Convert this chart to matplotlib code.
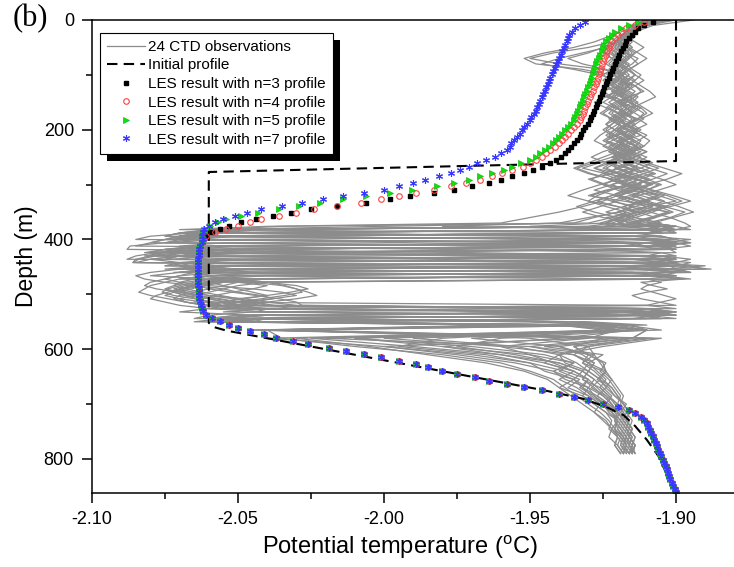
import matplotlib
matplotlib.use('Agg')
import matplotlib.pyplot as plt
import numpy as np
from matplotlib.patches import Rectangle
from matplotlib.ticker import MultipleLocator, FormatStrFormatter

plt.rcParams['font.family'] = ['Liberation Sans', 'DejaVu Sans']
plt.rcParams['mathtext.fontset'] = 'custom'
plt.rcParams['mathtext.rm'] = 'Liberation Sans'

# CTD casts, temperature stored as 0.001 degC above -2.100 degC
ctd_base = -2.100
ctd_upper_depth = np.arange(0, 371, 10)
ctd_mid_depth = np.arange(376, 557, 6)
ctd_lower_depth = np.arange(565, 791, 15)

ctd_upper = [
    [196,188,184,180,178,170,158,150,160,175,182,179,184,180,176,181,186,183,178,180,184,188,182,177,180,185,178,172,180,190,186,176,170,182,195,188,176,182],
    [190,186,182,177,172,165,155,148,152,168,178,183,180,175,178,184,188,185,180,176,179,183,186,181,175,171,176,184,192,185,178,183,194,200,190,181,170,160],
    [193,187,185,183,180,176,168,160,154,165,174,180,186,189,184,179,176,181,187,190,186,180,176,182,188,183,174,168,176,186,194,190,184,178,186,198,192,185],
    [200,190,184,181,179,175,170,163,168,176,181,178,175,179,183,180,177,174,178,183,187,185,180,184,190,186,180,184,178,170,175,188,196,190,182,176,186,195],
    [195,189,186,184,183,185,182,179,181,184,186,183,180,178,182,186,189,192,188,184,181,183,186,189,185,180,177,183,189,195,200,194,187,183,190,197,191,183],
    [191,185,183,186,184,181,183,187,185,182,179,177,180,184,187,185,182,180,183,186,184,179,176,180,185,190,186,181,175,180,187,192,199,205,198,190,184,178],
    [206,192,187,184,182,180,178,181,184,182,180,182,185,183,178,175,179,183,181,178,175,178,183,187,184,178,172,166,171,178,184,189,186,180,174,168,175,185],
    [194,188,185,183,186,189,186,183,180,178,181,185,188,191,193,189,185,183,186,184,180,182,185,182,178,182,188,194,189,183,178,172,180,188,194,199,193,187],
    [192,186,184,182,180,183,181,178,176,179,182,180,177,174,177,181,184,182,179,182,186,190,187,183,180,184,190,196,202,197,190,185,180,188,196,203,198,190],
    [190,185,183,181,179,177,180,183,181,178,175,178,182,179,176,172,176,180,183,180,177,174,172,176,180,175,170,165,170,178,183,178,173,170,176,183,178,170],
    [197,190,186,184,182,184,187,190,187,184,186,189,186,183,181,184,188,190,187,183,185,188,191,189,185,182,186,191,197,192,186,182,188,195,201,206,199,192],
    [193,187,184,182,180,178,176,178,181,184,182,179,176,180,184,181,178,175,178,181,179,176,179,183,186,182,178,180,185,180,174,168,163,170,180,186,181,174],
    [189,186,184,182,181,183,185,183,180,182,184,181,183,186,184,181,183,186,189,186,182,180,183,186,183,179,182,186,183,177,182,189,194,188,182,187,193,186],
    [195,188,185,183,181,180,182,184,182,179,177,175,178,181,184,187,184,180,177,180,184,182,178,175,179,184,188,185,180,186,192,186,180,175,168,160,150,140],
    [192,187,185,184,182,181,179,181,183,185,188,186,183,180,178,180,183,181,178,176,179,182,185,188,184,181,176,180,186,191,187,183,179,184,190,186,180,176],
    [198,190,186,183,180,179,181,179,177,180,183,186,184,181,179,182,185,183,180,183,187,184,181,178,182,187,192,188,183,179,185,191,197,202,196,189,183,190],
    [190,185,183,181,183,185,183,180,178,180,182,180,178,181,184,182,179,177,180,178,176,179,182,180,177,181,185,180,175,171,176,182,178,172,166,172,180,188],
    [194,188,185,182,180,181,183,185,187,184,181,183,186,188,186,183,180,182,185,183,180,184,188,186,182,178,183,188,193,188,183,186,191,196,190,184,178,185],
    [191,186,184,183,181,179,177,180,183,181,179,181,184,182,180,177,180,183,186,184,181,179,182,180,184,188,184,179,184,190,195,190,185,190,197,192,186,180],
    [196,189,185,182,180,182,184,182,179,177,179,182,180,178,181,184,186,189,187,183,180,178,175,179,183,180,176,172,177,183,188,184,178,173,180,187,182,176],
    [193,187,184,183,185,183,180,178,181,183,186,184,181,179,177,180,183,185,182,180,183,186,183,180,177,181,186,191,186,180,175,180,186,191,186,180,186,192],
    [190,186,184,181,179,177,175,178,180,183,181,178,180,183,186,183,180,178,181,185,188,185,182,186,190,185,180,176,181,187,183,177,171,178,185,180,172,165],
    [195,188,186,184,182,180,178,180,182,180,178,176,179,182,185,183,181,183,186,183,179,177,180,184,181,178,182,187,182,177,182,188,194,189,184,191,198,203],
    [192,187,185,183,181,183,186,184,181,179,181,184,182,179,182,185,187,184,181,183,186,183,180,182,186,182,178,175,180,186,191,186,181,186,192,187,181,176],
]

ctd_mid = [
    [175,60,40,30,190,195,45,25,20,130,200,190,40,30,60,200,190,45,35,30,28,32,40,45,50,195,190,60,45,150,185],
    [120,195,200,50,35,25,140,195,60,30,20,15,170,200,205,60,40,50,60,55,48,42,38,35,190,200,55,40,35,170,190],
    [190,198,45,30,185,200,192,35,20,25,50,195,205,210,60,40,190,195,190,188,192,196,200,195,190,60,45,195,185,60,175],
    [185,60,38,35,40,110,195,200,45,30,25,185,200,55,35,30,25,20,18,22,30,40,52,60,70,190,180,50,40,165,185],
    [195,200,190,40,25,20,15,170,195,200,55,35,30,40,180,195,200,60,50,45,40,35,30,32,38,45,150,200,60,48,160],
    [170,45,35,150,200,205,190,40,22,15,12,180,198,200,45,30,25,30,40,55,65,70,62,50,45,60,185,195,55,45,140],
    [195,190,195,35,30,180,190,60,40,35,195,200,50,38,30,190,203,188,192,197,190,185,188,194,200,40,30,55,190,60,175],
    [180,195,30,25,38,195,200,190,30,20,15,14,95,205,195,40,30,60,70,74,68,60,52,45,40,50,180,192,50,40,150],
    [200,45,30,190,205,195,35,25,28,195,200,192,45,30,20,15,18,25,35,45,50,58,62,55,48,140,200,60,42,168,182],
    [65,40,37,45,160,190,185,50,35,30,40,190,210,195,45,35,50,45,38,32,28,25,30,38,45,60,190,200,45,35,155],
    [200,205,45,30,25,190,195,200,45,30,20,30,200,212,60,40,35,40,45,50,55,60,50,45,40,190,195,185,60,55,170],
    [180,40,30,195,200,45,30,120,195,190,50,35,25,185,200,195,50,40,35,30,28,32,36,40,44,50,185,190,200,60,160],
    [195,200,35,20,15,190,200,40,25,18,190,205,200,50,35,185,60,40,32,28,35,40,48,55,60,160,200,55,45,165,185],
    [60,30,185,195,45,25,13,12,100,195,200,45,30,35,190,200,55,42,36,30,26,22,20,25,30,40,60,185,195,55,150],
    [190,195,40,30,25,20,195,200,45,30,185,195,40,25,185,200,60,45,38,34,30,35,42,50,58,190,200,55,180,60,170],
    [200,195,190,45,35,200,205,195,40,30,25,190,200,45,30,20,40,55,65,70,72,66,58,50,45,40,190,200,50,45,155],
    [190,40,35,30,195,200,40,30,25,140,195,200,190,45,28,195,205,50,45,40,35,30,28,32,40,55,60,190,195,58,165],
    [195,198,200,40,28,190,198,45,35,22,16,14,185,200,205,50,40,35,30,26,24,28,35,42,50,190,195,60,45,55,180],
    [190,50,38,185,195,200,50,35,130,200,45,30,25,190,205,40,35,30,28,32,38,44,50,56,62,68,190,195,60,50,170],
    [150,190,195,42,30,25,185,198,200,40,28,190,200,55,40,35,50,60,66,70,74,77,70,60,50,190,195,185,50,40,160],
    [200,45,30,25,190,205,195,40,30,185,200,45,35,190,200,40,30,25,20,18,16,20,26,32,40,50,195,200,60,165,180],
    [100,40,32,195,200,190,45,30,22,20,185,198,205,45,30,190,40,32,28,25,30,36,44,50,55,185,190,50,40,150,175],
    [205,200,40,30,190,200,40,25,18,195,205,200,48,35,190,196,45,38,34,30,32,36,40,46,52,58,190,198,55,45,165],
    [185,190,40,35,190,200,195,45,30,25,115,195,50,30,185,200,45,40,36,40,48,56,64,70,72,190,200,55,180,60,160],
]

ctd_lower = [
    [190,75,110,140,160,168,172,175,178,176,180,182,181,183,184,185],
    [60,180,150,165,172,170,174,171,176,180,178,181,183,182,184,183],
    [185,160,120,150,158,165,170,168,173,177,181,179,180,182,181,184],
    [70,190,165,170,168,172,175,178,180,182,184,183,185,184,186,185],
    [180,90,130,155,165,160,167,163,170,174,178,180,179,181,183,182],
    [55,170,100,125,145,158,162,170,168,172,176,178,177,180,179,181],
    [190,185,160,170,175,176,178,180,182,181,183,185,184,186,185,186],
    [65,150,170,160,166,170,168,172,175,178,180,179,181,183,182,184],
    [195,100,140,165,170,173,176,174,177,180,182,184,183,185,184,186],
    [60,65,90,120,140,150,158,162,166,170,174,177,179,180,182,181],
    [190,185,170,172,174,176,173,177,179,182,184,183,185,184,186,185],
    [175,120,105,135,150,155,165,160,168,172,176,180,178,181,180,182],
    [185,130,160,168,172,170,174,176,173,177,180,182,184,183,185,184],
    [58,195,175,160,155,165,160,166,170,174,172,176,178,180,179,181],
    [180,70,95,115,135,148,156,160,164,168,172,175,178,177,180,182],
    [62,175,165,170,176,174,177,179,181,180,183,182,184,186,185,184],
    [190,140,125,145,160,168,165,170,172,175,177,180,182,181,183,182],
    [190,80,150,172,168,175,178,176,179,183,181,184,183,185,184,186],
    [180,60,100,130,150,162,170,173,176,178,180,179,181,183,182,184],
    [55,192,170,165,170,168,172,170,175,178,180,183,182,184,183,185],
    [185,110,145,160,162,170,168,174,177,179,182,181,183,184,186,185],
    [180,170,140,150,165,158,165,168,171,175,178,180,179,182,181,183],
    [60,185,155,175,170,176,174,178,180,182,184,183,185,184,186,184],
    [182,90,120,140,155,165,170,167,172,176,179,181,180,182,183,182],
]

# initial (prescribed) profile
init_temp = [-1.900, -1.900, -2.060, -2.060, -2.058, -2.054, -2.045, -2.035, -2.020, -2.005, -1.990,
             -1.975, -1.960, -1.945, -1.932, -1.924, -1.918, -1.914, -1.910, -1.906, -1.903, -1.900]
init_depth = [0, 257, 277, 552, 560, 566, 575, 585, 600, 615, 630,
              645, 660, 675, 690, 705, 720, 740, 765, 795, 830, 862]

# LES results, model levels every 6 m
les_depth = np.arange(3, 862, 6)
les_n3_upper = [
    -1.908, -1.911, -1.913, -1.914, -1.915, -1.916, -1.917, -1.9175, -1.918, -1.919,
    -1.9195, -1.920, -1.9205, -1.921, -1.9215, -1.922, -1.9225, -1.923, -1.9235, -1.924,
    -1.9245, -1.925, -1.9255, -1.926, -1.9265, -1.927, -1.9275, -1.928, -1.9285, -1.929,
    -1.9295, -1.930, -1.931, -1.932, -1.9325, -1.933, -1.934, -1.935, -1.936, -1.937,
    -1.938, -1.9395, -1.941, -1.943, -1.946, -1.949, -1.952, -1.956, -1.960, -1.964,
    -1.970, -1.976, -1.983, -1.991, -1.998, -2.006, -2.016, -2.025, -2.032, -2.038,
    -2.044, -2.049, -2.053, -2.056, -2.059, -2.061]
les_n4_upper = [
    -1.911, -1.914, -1.917, -1.919, -1.920, -1.921, -1.922, -1.9225, -1.923, -1.9235,
    -1.924, -1.9245, -1.925, -1.9253, -1.9257, -1.926, -1.9263, -1.9267, -1.927, -1.9275,
    -1.928, -1.9285, -1.929, -1.9295, -1.930, -1.9305, -1.931, -1.9315, -1.932, -1.9325,
    -1.933, -1.934, -1.935, -1.936, -1.937, -1.938, -1.939, -1.940, -1.9415, -1.943,
    -1.9445, -1.946, -1.948, -1.950, -1.9525, -1.956, -1.9595, -1.963, -1.967, -1.972,
    -1.977, -1.983, -1.989, -1.995, -2.001, -2.008, -2.016, -2.024, -2.030, -2.036,
    -2.042, -2.046, -2.050, -2.054, -2.058, -2.061]
les_n5_upper = [
    -1.913, -1.916, -1.919, -1.921, -1.922, -1.923, -1.924, -1.9245, -1.925, -1.9255,
    -1.926, -1.9265, -1.927, -1.9273, -1.9277, -1.928, -1.9283, -1.9287, -1.929, -1.9295,
    -1.930, -1.9305, -1.931, -1.9315, -1.932, -1.9325, -1.933, -1.9335, -1.934, -1.9345,
    -1.935, -1.936, -1.937, -1.938, -1.939, -1.940, -1.941, -1.942, -1.9435, -1.945,
    -1.9465, -1.948, -1.950, -1.953, -1.956, -1.959, -1.963, -1.967, -1.971, -1.976,
    -1.982, -1.9905, -1.998, -2.006, -2.014, -2.022, -2.029, -2.036, -2.043, -2.049,
    -2.054, -2.057, -2.0595, -2.061, -2.062, -2.0625]
les_n7_upper = [
    -1.931, -1.933, -1.9345, -1.9355, -1.9365, -1.937, -1.9375, -1.938, -1.9385, -1.939,
    -1.9395, -1.940, -1.9405, -1.941, -1.9415, -1.942, -1.9425, -1.943, -1.9435, -1.944,
    -1.9445, -1.945, -1.9455, -1.946, -1.9465, -1.947, -1.9475, -1.948, -1.9487, -1.9495,
    -1.950, -1.951, -1.952, -1.9528, -1.9535, -1.9545, -1.9555, -1.9565, -1.957, -1.958,
    -1.960, -1.962, -1.965, -1.968, -1.971, -1.974, -1.977, -1.981, -1.986, -1.990,
    -1.995, -2.000, -2.007, -2.014, -2.021, -2.028, -2.035, -2.042, -2.047, -2.051,
    -2.055, -2.058, -2.060, -2.0615, -2.062, -2.0625]
# below ~400 m the four runs coincide
les_lower = [
    -2.062, -2.0625, -2.063, -2.0632, -2.0634, -2.0635, -2.0636, -2.0636, -2.0637, -2.0637,
    -2.0637, -2.0637, -2.0637, -2.0636, -2.0636, -2.0635, -2.0634, -2.0633, -2.0632, -2.063,
    -2.0628, -2.0625, -2.062, -2.061, -2.059, -2.056, -2.053, -2.050, -2.046, -2.041,
    -2.037, -2.031, -2.026, -2.019, -2.013, -2.007, -2.001, -1.995, -1.989, -1.985,
    -1.980, -1.975, -1.969, -1.964, -1.958, -1.952, -1.946, -1.940, -1.935, -1.930,
    -1.925, -1.920, -1.916, -1.914, -1.912, -1.911, -1.910, -1.9095, -1.909, -1.9085,
    -1.908, -1.9075, -1.907, -1.9065, -1.906, -1.9055, -1.905, -1.9045, -1.904, -1.9035,
    -1.903, -1.9027, -1.9023, -1.902, -1.9015, -1.901, -1.9005, -1.900]

fig = plt.figure(figsize=(7.34, 5.67), dpi=100)
ax = fig.add_axes([92/734, 74/567, 642.4/734, 473/567])

ctd_depth = np.concatenate([ctd_upper_depth, ctd_mid_depth, ctd_lower_depth])
for i in range(len(ctd_upper)):
    t = ctd_base + np.array(ctd_upper[i] + ctd_mid[i] + ctd_lower[i]) / 1000.0
    ax.plot(t, ctd_depth, color='#8c8c8c', lw=0.9,
            label='24 CTD observations' if i == 0 else None)

ax.plot(init_temp, init_depth, color='black', lw=1.5, dashes=(5, 3), label='Initial profile')

ax.plot(les_n3_upper + les_lower, les_depth, ls='none', marker='s', ms=3.4,
        mfc='black', mec='black', label='LES result with n=3 profile')
ax.plot(les_n4_upper + les_lower, les_depth, ls='none', marker='o', ms=4,
        mfc='none', mec='#ff4040', mew=0.8, label='LES result with n=4 profile')
ax.plot(les_n5_upper + les_lower, les_depth, ls='none', marker='>', ms=4,
        mfc='#10e010', mec='#10c010', mew=0.5, label='LES result with n=5 profile')
ax.plot(les_n7_upper + les_lower, les_depth, ls='none', marker=(6, 2, 0), ms=5,
        mec='#3838ff', mew=0.8, label='LES result with n=7 profile')

ax.set_xlim(-2.10, -1.88)
ax.set_ylim(862, 0)
ax.xaxis.set_major_locator(MultipleLocator(0.05))
ax.xaxis.set_minor_locator(MultipleLocator(0.025))
ax.xaxis.set_major_formatter(FormatStrFormatter('%.2f'))
ax.yaxis.set_major_locator(MultipleLocator(200))
ax.yaxis.set_minor_locator(MultipleLocator(100))
ax.tick_params(which='major', direction='out', length=7, width=1.1, labelsize=13, pad=6)
ax.tick_params(which='minor', direction='out', length=4, width=1.1)
ax.tick_params(which='both', top=False, right=False)
ax.spines['right'].set_visible(False)
for s in ['left', 'bottom', 'top']:
    ax.spines[s].set_linewidth(1.1)

ax.set_xlabel(r'Potential temperature ($^{\rm o}$C)', fontsize=17, labelpad=6)
ax.xaxis.set_label_coords(0.479, -0.085)
ax.set_ylabel('Depth (m)', fontsize=16.5, labelpad=4)
fig.text(13/734, 1 - 19/567, '(b)', family='Liberation Serif', fontsize=22, va='center', ha='left')

leg = ax.legend(loc='upper left', bbox_to_anchor=(0.0125, 0.9725), borderaxespad=0,
                fontsize=11, fancybox=False, edgecolor='black', framealpha=1,
                handlelength=2.5, handletextpad=0.2, labelspacing=0.3, borderpad=0.45,
                numpoints=1)
leg.get_frame().set_linewidth(0.8)

# solid black drop shadow behind the legend box
fig.canvas.draw()
bb = leg.get_window_extent().transformed(ax.transAxes.inverted())
dx = 7 / ax.bbox.width
dy = 7 / ax.bbox.height
ax.add_patch(Rectangle((bb.x0 + dx, bb.y0 - dy), bb.width, bb.height, transform=ax.transAxes,
                       facecolor='black', edgecolor='none', zorder=4.9, clip_on=False))

fig.savefig('out.png', dpi=100)
